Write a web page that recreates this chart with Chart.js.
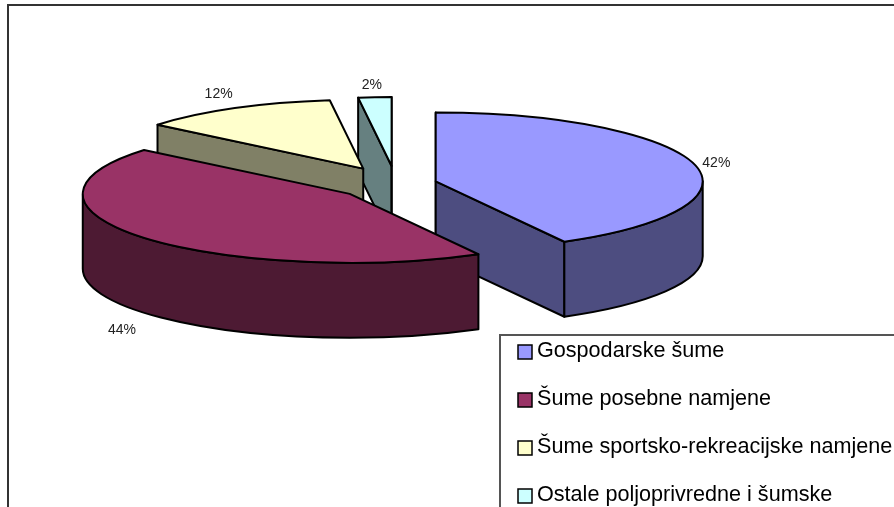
<!DOCTYPE html>
<html>
<head>
<meta charset="utf-8">
<title>Šume</title>
<style>
html, body { margin: 0; padding: 0; background: #fff; overflow: hidden; }
canvas { display: block; }
</style>
<script src="https://cdn.jsdelivr.net/npm/chart.js@4"></script>
</head>
<body>
<canvas id="forestChart" width="894" height="507"></canvas>
<script>
const categories = ['Gospodarske šume', 'Šume posebne namjene', 'Šume sportsko-rekreacijske namjene', 'Ostale poljoprivredne i šumske'];
const shares = [42, 44, 12, 2];
const topColors = ['#9999FF', '#993366', '#FFFFCC', '#CCFFFF'];
const wallColors = ['#4D4D80', '#4D1A33', '#808066', '#668080'];
const explode = [41, 60, 68, 70];
const labelNudge = [[22, -1], [-22, 92], [-16, -14], [-3, -12]];
const drawOrder = [3, 2, 0, 1];

const squash = 0.258; // ry / rx of the tilted pie
const depth = 75;
const labelFont = '14px "Liberation Sans", Arial, sans-serif';
const legendFont = '21.6px "Liberation Sans", Arial, sans-serif';

// geometry of a slice comes from the arc element chart.js laid out
function sliceGeometry(arc) {
    const mid = (arc.startAngle + arc.endAngle) / 2;
    const offset = arc.options.offset;
    return {
        cx: arc.x + Math.cos(mid) * offset,
        cy: arc.y + Math.sin(mid) * offset * squash,
        rx: arc.outerRadius,
        ry: arc.outerRadius * squash,
        start: arc.startAngle,
        end: arc.endAngle,
        mid: mid
    };
}

function radialWall(ctx, g, angle, color) {
    const x = g.cx + Math.cos(angle) * g.rx;
    const y = g.cy + Math.sin(angle) * g.ry;
    ctx.beginPath();
    ctx.moveTo(g.cx, g.cy);
    ctx.lineTo(x, y);
    ctx.lineTo(x, y + depth);
    ctx.lineTo(g.cx, g.cy + depth);
    ctx.closePath();
    ctx.fillStyle = color;
    ctx.fill();
    ctx.stroke();
}

function outerWall(ctx, g, color) {
    const from = Math.max(g.start, 0);
    const to = Math.min(g.end, Math.PI);
    if (to <= from) return;
    ctx.beginPath();
    ctx.ellipse(g.cx, g.cy, g.rx, g.ry, 0, from, to);
    ctx.ellipse(g.cx, g.cy + depth, g.rx, g.ry, 0, to, from, true);
    ctx.closePath();
    ctx.fillStyle = color;
    ctx.fill();
    ctx.stroke();
}

function topFace(ctx, g, color) {
    ctx.beginPath();
    ctx.moveTo(g.cx, g.cy);
    ctx.ellipse(g.cx, g.cy, g.rx, g.ry, 0, g.start, g.end);
    ctx.closePath();
    ctx.fillStyle = color;
    ctx.fill();
    ctx.stroke();
}

const pie3d = {
    id: 'pie3d',
    beforeDatasetsDraw(chart) {
        const ctx = chart.ctx;
        const arcs = chart.getDatasetMeta(0).data;
        ctx.save();
        ctx.strokeStyle = '#000';
        ctx.lineWidth = 2;
        ctx.lineJoin = 'round';
        drawOrder.forEach(i => {
            const g = sliceGeometry(arcs[i]);
            if (-Math.cos(g.start) > -1e-6) radialWall(ctx, g, g.start, wallColors[i]);
            if (Math.cos(g.end) > -1e-6) radialWall(ctx, g, g.end, wallColors[i]);
            outerWall(ctx, g, wallColors[i]);
            topFace(ctx, g, topColors[i]);
        });
        ctx.restore();
        return false; // walls and tops replace the flat arcs
    },
    afterDraw(chart) {
        const ctx = chart.ctx;
        const arcs = chart.getDatasetMeta(0).data;
        ctx.save();

        // value labels
        ctx.font = labelFont;
        ctx.fillStyle = '#222';
        ctx.textAlign = 'center';
        ctx.textBaseline = 'middle';
        arcs.forEach((arc, i) => {
            const g = sliceGeometry(arc);
            const x = g.cx + Math.cos(g.mid) * g.rx + labelNudge[i][0];
            const y = g.cy + Math.sin(g.mid) * g.ry + labelNudge[i][1];
            ctx.fillText(shares[i] + '%', x, y);
        });

        // outer frame and legend box both run off the page
        ctx.strokeStyle = '#333';
        ctx.lineWidth = 2;
        ctx.strokeRect(8, 5, 1000, 1000);
        ctx.strokeStyle = '#555';
        ctx.fillStyle = '#fff';
        ctx.fillRect(500, 335, 500, 300);
        ctx.strokeRect(500, 335, 500, 300);

        // legend
        ctx.font = legendFont;
        ctx.textAlign = 'left';
        ctx.textBaseline = 'alphabetic';
        ctx.lineWidth = 1.5;
        ctx.strokeStyle = '#000';
        categories.forEach((name, i) => {
            const y = 345 + i * 48;
            ctx.fillStyle = topColors[i];
            ctx.fillRect(518, y, 14, 14);
            ctx.strokeRect(518, y, 14, 14);
            ctx.fillStyle = '#000';
            ctx.fillText(name, 537, y + 12);
        });
        ctx.restore();
    }
};

new Chart(document.getElementById('forestChart'), {
    type: 'pie',
    data: {
        labels: categories,
        datasets: [{
            data: shares,
            backgroundColor: topColors,
            borderWidth: 0,
            offset: explode,
            radius: 267
        }]
    },
    options: {
        responsive: false,
        animation: false,
        events: [],
        layout: { padding: { right: 102, bottom: 139 } },
        plugins: {
            legend: { display: false },
            tooltip: { enabled: false },
            title: { display: false }
        }
    },
    plugins: [pie3d]
});
</script>
</body>
</html>
